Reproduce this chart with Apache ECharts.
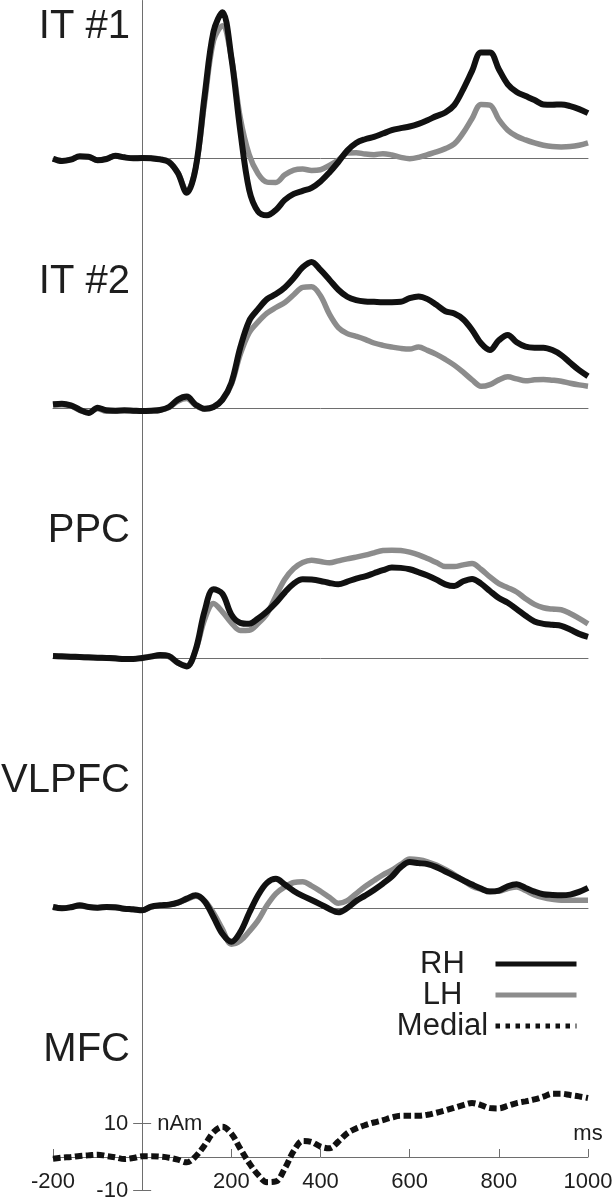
<!DOCTYPE html>
<html><head><meta charset="utf-8">
<script src="https://cdn.jsdelivr.net/npm/echarts@6/dist/echarts.min.js"></script>
<style>html,body{margin:0;padding:0;background:#fff}#c{width:612px;height:1199px}</style>
</head><body><div id="c"></div>
<script>
// ---- data (ms, nAm) ----
const TIMES = [-200,-180,-160,-140,-120,-100,-80,-60,-40,-20,
  0,20,40,60,80,100,120,140,160,180,
  200,220,240,260,280,300,320,340,360,380,
  400,420,440,460,480,500,520,540,560,580,
  600,620,640,660,680,700,720,740,760,780,
  800,820,840,860,880,900,920,940,960,980,1000];

const IT1_RH = [-0.2,-0.9,-0.5,0.5,0.4,-0.7,-0.3,0.7,0.2,-0.1, 0,-0.1,-0.4,-1.2,-4.5,-10.4,-3,18.5,37.7,43.5, 30,8.2,-9.5,-16,-17.1,-15.5,-12.5,-10.7,-9.8,-8.9, -7,-4.3,-1.2,2.2,4.5,5.6,6.3,7.3,8.3,8.9, 9.4,10.2,11.3,12.5,13.6,15.8,20.5,26,31.5,31.5, 26.5,22,19.7,18.5,17.3,16,15.9,16,15.5,14.6, 13.4];
const IT1_LH = [-0.2,-0.8,-0.4,0.4,0.3,-0.6,-0.2,0.6,0.2,0, 0.1,0,-0.3,-1.0,-4.3,-10,-3,16.5,35,39.5, 30,12,1,-4.7,-7.2,-7.3,-5,-3.6,-3.3,-3.7, -3.5,-2.2,-0.6,1.5,1.6,1.2,1.0,1.3,0.9,0.2, -0.2,0.2,1.0,1.8,2.8,4.2,7.5,11.8,16,15.8, 11.5,8.3,6.5,5.4,4.5,3.8,3.4,3.3,3.4,3.8, 4.5];
const IT2_RH = [1.1,1.3,0.8,-0.5,-1.5,0.1,-0.7,-0.8,-0.7,-0.8, -0.9,-0.8,-0.6,0.3,2.5,3.4,1.0,-0.2,0.3,2.5, 7.5,18,26,29.5,32.5,34,36,38.8,42,43.6, 41.2,38.3,35.3,33.2,32.2,31.8,31.7,31.6,31.6,31.7, 32.8,33.3,32.5,30.8,28.9,28.2,26.5,23.3,19.3,17.3, 20.2,21.8,19.6,18.3,18,18,17.3,15.8,13.5,11.3, 9.5];
const IT2_LH = [0.8,1.0,0.6,-0.7,-1.3,-0.2,-1.0,-0.9,-0.8,-0.9, -1.0,-0.9,-0.7,0.1,2.0,2.8,0.8,-0.3,0.3,2.3, 7,16,22.5,25.7,28.3,30,31.5,33.8,36,36.2, 33.5,28,24,22.2,21.4,20.5,19.4,18.7,18.2,17.8, 17.6,18.2,17.2,16,14.5,12.8,10.7,8.4,6.5,7.0, 8.4,9.3,8.7,8.1,8.4,8.5,8.3,8,7.4,6.9, 6.5];
const PPC_RH = [0.6,0.5,0.4,0.3,0.2,0.1,0,-0.1,-0.3,-0.3, 0,0.4,0.9,0.6,-1.4,-2.5,2.5,14,20.5,19.2, 13,10.5,10.2,11.8,13.9,16.5,19.6,22.2,23.5,23.4, 23,22.4,22,22.8,23.7,24.4,25.3,26.2,27,26.9, 26.5,25.6,24.6,23.4,22,21.5,22.9,23.6,22.2,20, 17.9,16.5,14.6,12.6,10.9,10.2,9.9,9.6,8.5,7.2, 6.3];
const PPC_LH = [0.5,0.4,0.3,0.2,0.1,0,-0.1,-0.2,-0.3,-0.2, 0.1,0.5,0.8,0.4,-1.5,-2.3,2.3,11.5,16.3,13.8, 10.5,8.2,8.3,10.3,13.2,18.5,23.5,26.7,28.5,29.2, 28.8,28.4,29,29.6,30.1,30.7,31.4,32.1,32.2,32.1, 31.6,30.8,29.7,28.5,27.3,27.3,27.8,28.2,26.5,24.2, 22.2,21,19.7,17.7,16,15,14.6,14.4,13.3,11.8, 10.2];
const VL_RH = [0.3,-0.1,0.2,0.8,0.3,0.1,0.3,0.2,-0.2,-0.4, -0.7,0.4,0.8,1.0,1.6,2.8,3.8,2.0,-2.7,-7.7, -10.1,-7.2,-1.5,3.8,7.5,8.7,7,5.1,3.6,2.4, 1.1,-0.3,-1.3,0,2.1,3.7,5.4,7.3,9.4,12.2, 13.7,13.4,13.1,12.2,10.9,9.6,8.3,7,5.8,4.9, 5.2,6.5,7.1,6,4.9,4.1,3.9,3.8,4.0,4.8, 6.0];
const VL_LH = [0.4,0,0.3,0.7,0.2,0.1,0.2,0.1,-0.3,-0.5, -0.6,0.3,0.7,0.9,1.5,2.6,3.5,2.2,-1.5,-6.3, -10.8,-9.8,-7,-3.7,0.8,4.3,6.3,7.6,7.8,6.6, 5.0,3.2,1.4,2.2,4.3,6.4,8.2,9.9,11.3,13, 14.6,14.4,13.8,12.8,11.5,10,8.2,6.5,5.6,5, 5,5.8,6.3,5.2,3.9,3.1,2.6,2.3,2.3,2.3, 2.3];
const MFC_MEDIAL = [-0.5,-0.2,0,0.3,0.5,0.7,0.3,-0.1,-0.6,-0.3, 0.2,0.2,0.1,-0.2,-0.8,-1.6,0.2,3.5,7.4,9, 7,2.5,-1.8,-5.3,-7.5,-7.3,-3.4,1.8,4.8,4.5, 3.1,2.6,4.6,7.1,8.5,9.5,10.3,11,11.8,12.3, 12.3,12.3,12.6,13.2,13.9,14.7,15.5,16.1,15.5,14.6, 14.5,15.3,16.1,16.6,17.2,18,18.9,18.9,18.5,18.1, 17.6];

const PANEL_TITLES = ['IT #1','IT #2','PPC','VLPFC','MFC'];
const X_TICKS = [-200,200,400,600,800,1000];
const Y_TICKS = [-10,10];
const Y_NAME_AT = [10];

// ---- layout / style ----
const FONT = '"Liberation Sans", Arial, Helvetica, sans-serif';
const TXT = '#1e1e1e';
const AX = '#6e6e6e';
const PX = 3.35;              // pixels per nAm
const LEFT = 53, PLOT_W = 535;
const X_MIN = -200, X_MAX = 1000;
const BASES = [158,408,658,908,1157];
const TOPS = [0.5,250.5,500.5,750.5,1000.5];
const HEIGHTS = [250,250,250,250,190];
const TITLE_CY = [27,282,531,781,1050];
const ZERO_X_OFF = -PLOT_W * (0 - X_MIN) / (X_MAX - X_MIN);      // shifts left axis to x = 0 ms
const ZERO_Y_OFF = -(TOPS[4] + HEIGHTS[4] - BASES[4]);             // shifts bottom axis to 0 nAm

const pairs = v => TIMES.map((t,i)=>[t, v[i]]);
const plain = v => String(v);

const grids = [], xAxes = [], yAxes = [], series = [];
for (let i=0;i<5;i++){
  grids.push({left:LEFT, width:PLOT_W, top:TOPS[i], height:HEIGHTS[i], containLabel:false, outerBoundsMode:'none'});
  const ymax = (BASES[i]-TOPS[i])/PX;
  const ymin = -(TOPS[i]+HEIGHTS[i]-BASES[i])/PX;
  const last = i===4;
  xAxes.push({
    type:'value', gridIndex:i, min:X_MIN, max:X_MAX, position:'bottom',
    offset: last ? ZERO_Y_OFF : 0,
    axisLine:{show:true, onZero:!last, lineStyle:{color:AX, width:1}},
    axisTick:{show:last, inside:true, length:8, customValues:X_TICKS, lineStyle:{color:AX,width:1}},
    axisLabel:{show:last, customValues:X_TICKS, formatter:plain, margin:14, fontSize:22, fontFamily:FONT, color:TXT},
    splitLine:{show:false},
    name: last ? 'ms' : '', nameLocation:'end', nameGap:0, nameMoveOverlap:false,
    nameTextStyle:{fontSize:22, fontFamily:FONT, color:TXT, align:'center', verticalAlign:'bottom', padding:[0,0,12,0]}
  });
  yAxes.push({
    type:'value', gridIndex:i, min:ymin, max:ymax, position:'left',
    offset: last ? ZERO_X_OFF : 0,
    axisLine:{show:true, onZero:!last, lineStyle:{color:AX, width:1}},
    axisTick:{show:last, inside:false, length:9, customValues:Y_TICKS, lineStyle:{color:AX,width:1}},
    axisLabel:{show:last, customValues:Y_TICKS, formatter:plain, margin:14, fontSize:22, fontFamily:FONT, color:TXT},
    splitLine:{show:false}
  });
}
// inner ticks + unit for the MFC scale (ticks cross the axis)
yAxes.push({type:'value', gridIndex:4, min:yAxes[4].min, max:yAxes[4].max, position:'left', offset:ZERO_X_OFF,
  axisLine:{show:false, onZero:false},
  axisTick:{show:true, inside:true, length:9, customValues:Y_TICKS, lineStyle:{color:AX,width:1}},
  axisLabel:{show:true, inside:true, customValues:Y_NAME_AT, formatter:()=> 'nAm', margin:15, fontSize:22, fontFamily:FONT, color:TXT},
  splitLine:{show:false}});

const PANELS = [[IT1_LH,IT1_RH],[IT2_LH,IT2_RH],[PPC_LH,PPC_RH],[VL_LH,VL_RH]];
PANELS.forEach((p,i)=>{
  series.push({name:'LH', type:'line', xAxisIndex:i, yAxisIndex:i, data:pairs(p[0]), showSymbol:false, symbol:'none', smooth:0.35,
    lineStyle:{color:'#8c8c8c', width:5.5}, itemStyle:{color:'#8c8c8c'}, silent:true, z:2});
  series.push({name:'RH', type:'line', xAxisIndex:i, yAxisIndex:i, data:pairs(p[1]), showSymbol:false, symbol:'none', smooth:0.35,
    lineStyle:{color:'#111111', width:6}, itemStyle:{color:'#111111'}, silent:true, z:3});
});
series.push({name:'Medial', type:'line', xAxisIndex:4, yAxisIndex:4, data:pairs(MFC_MEDIAL), showSymbol:false, symbol:'none', smooth:0.35,
  lineStyle:{color:'#111111', width:6, type:[7.5,3.5]}, itemStyle:{color:'#111111'}, silent:true, z:3});

const option = {
  animation:false,
  backgroundColor:'#ffffff',
  title: PANEL_TITLES.map((t,i)=>({text:t, right:612-130, top:TITLE_CY[i]-20, padding:0,
    textStyle:{fontFamily:FONT, fontSize:40, fontWeight:'normal', color:TXT}})),
  legend:{
    orient:'vertical', right:33, top:948.5, padding:0, itemGap:0, itemWidth:81, itemHeight:14, align:'right',
    selectedMode:false,
    formatter: n => '{c|'+n+'}',
    textStyle:{fontFamily:FONT, fontSize:31, color:TXT,
      rich:{c:{width:96, align:'center', fontSize:31, lineHeight:29, fontFamily:FONT, color:TXT}}},
    data:[
      {name:'RH', itemStyle:{opacity:0}, lineStyle:{color:'#111111', width:5, type:'solid'}},
      {name:'LH', itemStyle:{opacity:0}, lineStyle:{color:'#8c8c8c', width:5, type:'solid'}},
      {name:'Medial', itemStyle:{opacity:0}, lineStyle:{color:'#111111', width:5, type:[4.5,5.5]}}
    ]
  },
  grid:grids, xAxis:xAxes, yAxis:yAxes, series:series
};
const chart = echarts.init(document.getElementById('c'), null, {renderer:'canvas'});
chart.setOption(option);
</script></body></html>
